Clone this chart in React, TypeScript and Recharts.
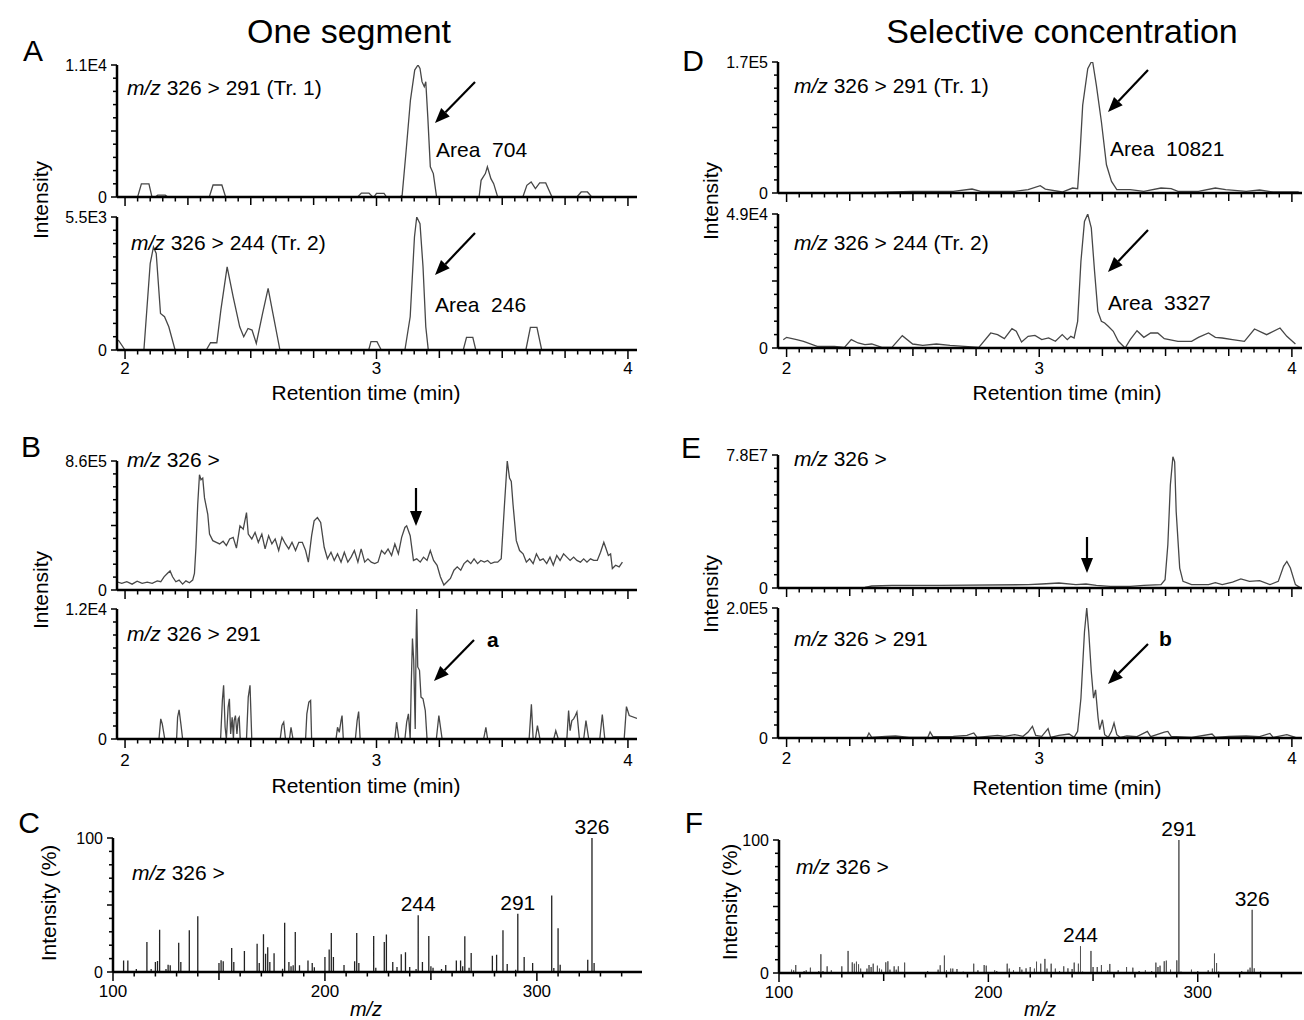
import React from 'react';
import { LineChart, Line, XAxis, YAxis, ReferenceDot } from 'recharts';

const FONT = '"Liberation Sans", Arial, Helvetica, sans-serif';

// axis labels
const rtLabels = [2, 3, 4];
const mzLabels = [100, 200, 300];

// [retention time (min), intensity]
// A: one segment, m/z 326 > 291 (Tr. 1)
const aTop: [number, number][] = [
  [1.968, 0], [2.05, 0], [2.065, 1100], [2.095, 1100], [2.107, 0], [2.12, 0], [2.13, 150], [2.16, 150], [2.17, 0],
  [2.335, 0], [2.35, 1000], [2.385, 1000], [2.4, 0], [2.925, 0], [2.94, 330], [2.97, 330], [2.985, 0],
  [2.99, 0], [3.0, 300], [3.03, 300], [3.04, 0], [3.093, 0], [3.102, 140], [3.118, 3900], [3.135, 8080],
  [3.152, 10580], [3.165, 11000], [3.173, 10720], [3.181, 9610], [3.19, 9190], [3.196, 9610], [3.204, 6680],
  [3.214, 2510], [3.226, 1950], [3.239, 0], [3.408, 0], [3.416, 1390], [3.433, 1950], [3.441, 2510],
  [3.455, 1530], [3.466, 1110], [3.482, 0], [3.582, 0], [3.598, 975], [3.615, 1250], [3.632, 700],
  [3.649, 1170], [3.673, 1170], [3.698, 0], [3.797, 0], [3.814, 420], [3.839, 420], [3.856, 0], [4.036, 0],
];

// A: one segment, m/z 326 > 244 (Tr. 2)
const aBot: [number, number][] = [
  [1.968, 420], [1.975, 385], [2.0, 0], [2.075, 0], [2.1, 3575], [2.113, 4260], [2.124, 3990], [2.141, 1510],
  [2.157, 1375], [2.174, 960], [2.199, 0], [2.323, 0], [2.34, 300], [2.365, 300], [2.381, 1650], [2.406, 3440],
  [2.43, 2200], [2.456, 960], [2.472, 550], [2.489, 890], [2.505, 825], [2.522, 275], [2.547, 1510],
  [2.569, 2545], [2.588, 1510], [2.616, 0], [2.969, 0], [2.978, 345], [3.002, 345], [3.019, 0], [3.113, 0],
  [3.134, 1375], [3.151, 4675], [3.16, 5500], [3.173, 5225], [3.185, 3440], [3.196, 960], [3.206, 0],
  [3.345, 0], [3.358, 520], [3.383, 520], [3.395, 0], [3.594, 0], [3.612, 935], [3.638, 935], [3.657, 0], [4.036, 0],
];

// B: one segment, m/z 326 > (x1000)
const bTop: [number, number][] = [
  [1.967, 55], [1.987, 44], [2.007, 55], [2.028, 39], [2.048, 59], [2.068, 44], [2.088, 53], [2.108, 44], [2.128, 61],
  [2.142, 55], [2.155, 88], [2.168, 110], [2.179, 127], [2.189, 88], [2.202, 55], [2.215, 66], [2.229, 39], [2.242, 61],
  [2.256, 48], [2.269, 66], [2.276, 110], [2.282, 285], [2.289, 570], [2.296, 768], [2.302, 735], [2.309, 746],
  [2.316, 614], [2.329, 505], [2.336, 373], [2.349, 329], [2.363, 318], [2.376, 307], [2.39, 325], [2.403, 296],
  [2.416, 340], [2.43, 351], [2.443, 279], [2.457, 428], [2.47, 406], [2.483, 516], [2.49, 373], [2.504, 340],
  [2.517, 384], [2.53, 318], [2.544, 373], [2.557, 274], [2.571, 362], [2.584, 307], [2.597, 340], [2.611, 263],
  [2.624, 351], [2.638, 307], [2.651, 274], [2.664, 318], [2.678, 263], [2.691, 318], [2.705, 318], [2.718, 263],
  [2.729, 186], [2.742, 362], [2.752, 461], [2.765, 483], [2.778, 450], [2.792, 285], [2.805, 208], [2.819, 252],
  [2.832, 197], [2.845, 241], [2.859, 186], [2.872, 252], [2.886, 186], [2.899, 219], [2.912, 263], [2.926, 186],
  [2.939, 274], [2.953, 186], [2.966, 208], [2.979, 186], [2.993, 176], [3.006, 186], [3.02, 263], [3.033, 241],
  [3.046, 274], [3.06, 230], [3.073, 307], [3.087, 241], [3.1, 351], [3.113, 417], [3.12, 428], [3.134, 362],
  [3.147, 197], [3.16, 208], [3.174, 186], [3.187, 219], [3.201, 197], [3.214, 263], [3.227, 197], [3.241, 165],
  [3.254, 88], [3.268, 33], [3.281, 55], [3.294, 77], [3.308, 132], [3.321, 154], [3.335, 132], [3.348, 176],
  [3.362, 197], [3.375, 176], [3.388, 208], [3.402, 176], [3.415, 197], [3.429, 186], [3.442, 197], [3.455, 176],
  [3.469, 186], [3.482, 186], [3.496, 208], [3.509, 570], [3.52, 860], [3.529, 746], [3.536, 724], [3.543, 570],
  [3.556, 329], [3.569, 263], [3.583, 241], [3.596, 186], [3.609, 208], [3.623, 176], [3.636, 241], [3.65, 197],
  [3.663, 208], [3.677, 176], [3.69, 219], [3.703, 165], [3.717, 230], [3.73, 197], [3.744, 241], [3.757, 219],
  [3.77, 197], [3.784, 219], [3.797, 197], [3.811, 186], [3.824, 208], [3.837, 186], [3.851, 208], [3.864, 197],
  [3.878, 197], [3.891, 252], [3.904, 318], [3.911, 285], [3.922, 230], [3.931, 241], [3.938, 143], [3.951, 165],
  [3.965, 154], [3.978, 186],
];

// B: one segment, m/z 326 > 291
const bBot: [number, number][] = [
  [1.967, 0], [2.135, 0], [2.142, 1860], [2.148, 1390], [2.158, 0], [2.205, 0], [2.209, 2010], [2.215, 2690],
  [2.222, 1390], [2.229, 0], [2.38, 0], [2.387, 3560], [2.392, 4950], [2.398, 1080], [2.403, 0], [2.41, 2940],
  [2.415, 3710], [2.42, 464], [2.426, 2010], [2.431, 0], [2.434, 1700], [2.439, 2165], [2.445, 464], [2.45, 1860],
  [2.454, 2010], [2.458, 0], [2.483, 0], [2.49, 3870], [2.497, 4950], [2.504, 0], [2.617, 0], [2.624, 1240],
  [2.631, 1550], [2.638, 0], [2.654, 0], [2.66, 1080], [2.668, 0], [2.718, 0], [2.723, 2320], [2.731, 3400],
  [2.738, 3560], [2.742, 0], [2.839, 0], [2.845, 1080], [2.852, 620], [2.859, 1700], [2.863, 2165], [2.868, 0],
  [2.916, 0], [2.923, 1700], [2.929, 2540], [2.935, 0], [3.073, 0], [3.08, 1550], [3.089, 0], [3.113, 0],
  [3.12, 1550], [3.127, 2320], [3.134, 0], [3.138, 4800], [3.143, 9280], [3.148, 7270], [3.154, 930],
  [3.158, 10050], [3.16, 12000], [3.164, 6650], [3.171, 6340], [3.177, 3870], [3.185, 3710], [3.194, 2630],
  [3.201, 0], [3.238, 0], [3.248, 2165], [3.261, 0], [3.426, 0], [3.435, 1080], [3.442, 0], [3.607, 0],
  [3.616, 3200], [3.623, 0], [3.632, 0], [3.64, 1240], [3.65, 0], [3.705, 0], [3.713, 770], [3.723, 0],
  [3.757, 0], [3.764, 2630], [3.77, 770], [3.777, 1700], [3.784, 1860], [3.791, 2165], [3.797, 2480], [3.807, 0],
  [3.824, 0], [3.833, 1700], [3.844, 0], [3.888, 0], [3.898, 2260], [3.908, 0], [3.985, 0], [3.994, 2990],
  [4.005, 2165], [4.036, 1900],
];

// D: selective concentration, m/z 326 > 291 (Tr. 1)
const dTop: [number, number][] = [
  [1.966, 0], [2.337, 860], [2.499, 2150], [2.66, 2150], [2.734, 5160], [2.768, 2150], [2.903, 2150], [2.956, 4300],
  [3.004, 9470], [3.024, 5160], [3.091, 1290], [3.132, 6460], [3.152, 5600], [3.161, 49500], [3.172, 114000],
  [3.192, 161400], [3.206, 170000], [3.212, 169100], [3.226, 139900], [3.246, 92500], [3.266, 36600],
  [3.286, 15100], [3.307, 4300], [3.36, 4300], [3.414, 2150], [3.482, 6460], [3.522, 5600], [3.549, 2150],
  [3.63, 2150], [3.697, 6460], [3.738, 4300], [3.819, 2150], [3.872, 3870], [3.926, 1290], [4.027, 1290],
];

// D: selective concentration, m/z 326 > 244 (Tr. 2)
const dBot: [number, number][] = [
  [1.987, 3050], [2.0, 3900], [2.04, 3050], [2.067, 2440], [2.121, 610], [2.189, 610], [2.229, 240], [2.256, 3050],
  [2.283, 1830], [2.31, 1220], [2.337, 1460], [2.377, 240], [2.417, 240], [2.458, 4510], [2.499, 1460],
  [2.539, 975], [2.593, 1460], [2.647, 975], [2.761, 240], [2.808, 5490], [2.835, 4880], [2.862, 3410],
  [2.892, 7070], [2.909, 6100], [2.93, 2190], [2.956, 4270], [2.983, 4630], [3.01, 3050], [3.037, 3660],
  [3.064, 2440], [3.091, 4880], [3.111, 3050], [3.125, 4270], [3.138, 3660], [3.152, 9750], [3.165, 31700],
  [3.179, 46300], [3.192, 49000], [3.206, 43900], [3.219, 28000], [3.232, 13400], [3.246, 9750], [3.259, 9140],
  [3.273, 7920], [3.293, 6100], [3.313, 2440], [3.34, 0], [3.36, 3050], [3.387, 6340], [3.414, 3900],
  [3.441, 5490], [3.469, 5490], [3.495, 3410], [3.549, 2440], [3.603, 2440], [3.63, 3900], [3.67, 5490],
  [3.697, 3900], [3.724, 3660], [3.765, 3050], [3.812, 2440], [3.852, 6950], [3.9, 4880], [3.953, 7310],
  [3.98, 4270], [4.014, 1460],
];

// E: selective concentration, m/z 326 > (x1E6)
const eTop: [number, number][] = [
  [1.966, 0], [2.31, 0.39], [2.337, 1.17], [2.418, 1.56], [2.606, 1.56], [2.957, 1.95], [3.01, 2.34], [3.078, 2.93],
  [3.145, 1.95], [3.185, 2.34], [3.226, 1.56], [3.28, 0.98], [3.36, 0.98], [3.414, 1.56], [3.482, 1.95],
  [3.498, 4.9], [3.509, 25.4], [3.519, 60.5], [3.529, 77], [3.536, 74], [3.542, 44.9], [3.556, 11.7],
  [3.569, 3.9], [3.603, 1.95], [3.67, 1.95], [3.697, 3.1], [3.724, 1.95], [3.765, 3.5], [3.798, 5.3],
  [3.832, 3.9], [3.872, 4.3], [3.913, 1.95], [3.946, 3.9], [3.967, 12.7], [3.98, 15.6], [3.994, 11.7],
  [4.014, 1.95], [4.031, 0.39],
];

// E: selective concentration, m/z 326 > 291 (x1000)
const eBot: [number, number][] = [
  [1.966, 0], [2.317, 0], [2.326, 7.7], [2.337, 1.0], [2.391, 2.6], [2.431, 3.1], [2.485, 1.0], [2.559, 1.0],
  [2.568, 9.2], [2.579, 2.0], [2.66, 2.6], [2.714, 4.1], [2.741, 7.7], [2.754, 1.0], [2.835, 4.1], [2.862, 2.6],
  [2.903, 5.1], [2.936, 2.6], [2.956, 9.2], [2.973, 17.9], [2.986, 4.1], [3.01, 2.6], [3.035, 14.3], [3.045, 1.0],
  [3.078, 4.1], [3.118, 6.1], [3.138, 1.0], [3.152, 10.2], [3.165, 61.2], [3.179, 163], [3.188, 200],
  [3.196, 163], [3.206, 102], [3.215, 61.2], [3.223, 74], [3.233, 30.6], [3.239, 12.8], [3.25, 28.1],
  [3.259, 5.1], [3.273, 1.0], [3.286, 10.2], [3.296, 23], [3.307, 5.1], [3.32, 1.0], [3.347, 3.1], [3.387, 2.0],
  [3.428, 10.2], [3.441, 2.0], [3.495, 9.2], [3.509, 10.2], [3.522, 2.6], [3.603, 1.0], [3.684, 6.1],
  [3.697, 1.0], [3.751, 2.6], [3.819, 3.1], [3.872, 2.0], [3.913, 7.1], [3.926, 1.0], [3.98, 5.1], [4.014, 1.0],
];

// [m/z, relative intensity %]
const cPeaks: [number, number][] = [
  [105, 8.5], [107, 8.5], [111, 2.2], [116, 22.4], [118, 2.2], [120, 7.5], [121, 8.2], [122, 31.6], [125, 2.2],
  [126, 5.5], [127, 5], [131, 21.9], [132, 7.5], [136, 31.1], [140, 41.6], [150, 6.7], [151, 8.7], [152, 8],
  [156, 17.9], [157, 7.5], [162, 15.7], [168, 21.1], [169, 6.7], [171, 28.1], [172, 13.7], [173, 18.4], [174, 7.5],
  [176, 13.9], [180, 2.5], [181, 36.8], [183, 7.5], [184, 4.2], [185, 5], [186, 29.9], [188, 5], [192, 8.5],
  [194, 6.7], [195, 3.5], [200, 11.2], [202, 16.7], [203, 29.1], [204, 11.2], [209, 5.2], [214, 8], [215, 29.1],
  [216, 6.7], [223, 26.9], [224, 3.2], [228, 22.4], [229, 27.9], [232, 7.5], [234, 3.7], [236, 13.2], [238, 14.7],
  [240, 3.7], [243, 2.2], [244, 42.3], [246, 7.5], [249, 26.9], [250, 4.2], [251, 3.2], [255, 2.2], [257, 5.2],
  [262, 8.5], [264, 8.5], [265, 4.2], [266, 26.6], [268, 3.2], [269, 14.2], [279, 12.2], [281, 12.9], [284, 31.1],
  [286, 6], [290, 1.7], [291, 43.5], [294, 11.2], [298, 6.7], [307, 57], [308, 3], [310, 32.6], [311, 5.5],
  [324, 9.2], [326, 100], [327, 6.7],
];

const fPeaks: [number, number][] = [
  [106, 2.5], [107, 2], [108, 6], [112, 1.5], [113, 2], [115, 4], [119, 1.5], [120, 14.1], [121, 1.5], [123, 5],
  [125, 2], [130, 5], [133, 16.6], [135, 8], [136, 7], [137, 8.5], [138, 6.5], [139, 3.3], [142, 3.3], [143, 6],
  [144, 4.5], [145, 7], [147, 5.5], [148, 3.3], [149, 2.5], [151, 8], [152, 8.8], [153, 2.5], [155, 5], [156, 2.5],
  [157, 5], [160, 7.8], [166, 0.5], [171, 1.5], [176, 2.5], [177, 5.8], [179, 13.1], [180, 2], [182, 3.3],
  [183, 3.3], [185, 3], [188, 1], [193, 7], [195, 2], [198, 6], [199, 5.5], [203, 2], [204, 1.5], [209, 7],
  [210, 3.3], [212, 2], [215, 4.5], [216, 2.5], [218, 3.5], [220, 4.5], [222, 3.3], [223, 8.5], [225, 7],
  [227, 10.6], [228, 3.3], [230, 7], [232, 3.3], [234, 1.5], [236, 5], [238, 3.5], [240, 3], [241, 7.8], [243, 7],
  [244, 20.1], [245, 1], [249, 16.6], [250, 4.5], [252, 4.5], [254, 6], [257, 2], [258, 6.8], [262, 2], [266, 4.5],
  [269, 4], [272, 1.5], [275, 2], [278, 1.5], [280, 7.8], [281, 4.5], [282, 5.5], [284, 8.8], [285, 9.3],
  [287, 2.5], [290, 9.5], [291, 100], [292, 1], [297, 2.5], [300, 1.5], [305, 2], [307, 3.3], [308, 14.6],
  [309, 7.5], [310, 1], [321, 1.5], [324, 2.5], [325, 4], [326, 47.5], [327, 3.5], [330, 1], [341, 0.5], [344, 0.5],
];

const labeledMz = [244, 291, 326];

function TimeTick(props: any) {
  const { x, y, payload, showLabels, gap } = props;
  const v = payload.value;
  const q = Math.round(v * 20);
  const isInt = q % 20 === 0;
  const len = isInt ? 9 : q % 5 === 0 ? 8 : 4.5;
  return (
    <g>
      <line x1={x} x2={x} y1={y} y2={y + len} stroke="#000" strokeWidth={1.5} />
      {showLabels && isInt && rtLabels.includes(Math.round(v)) && (
        <text x={x} y={y + gap} textAnchor="middle" dominantBaseline="central" fontSize={17} fontFamily={FONT} fill="#000">
          {Math.round(v)}
        </text>
      )}
    </g>
  );
}

function MzTick(props: any) {
  const { x, y, payload, gap } = props;
  const v = Math.round(payload.value);
  const len = v % 100 === 0 ? 9 : v % 50 === 0 ? 8 : 4.5;
  return (
    <g>
      <line x1={x} x2={x} y1={y} y2={y + len} stroke="#000" strokeWidth={1.5} />
      {mzLabels.includes(v) && (
        <text x={x} y={y + gap} textAnchor="middle" dominantBaseline="central" fontSize={17} fontFamily={FONT} fill="#000">
          {v}
        </text>
      )}
    </g>
  );
}

function IntTick(props: any) {
  const { x, y, payload, max, topLabel } = props;
  const k = Math.round((payload.value / max) * 10);
  const len = k % 5 === 0 ? 6 : 4;
  return (
    <g>
      <line x1={x - len} x2={x} y1={y} y2={y} stroke="#000" strokeWidth={1.5} />
      {(k === 0 || k === 10) && (
        <text x={x - 10} y={y} textAnchor="end" dominantBaseline="central" fontSize={16} fontFamily={FONT} fill="#000">
          {k === 0 ? '0' : topLabel}
        </text>
      )}
    </g>
  );
}

function Chrom({ points, yMax, topLabel, left, top, width, height, xDomain, labels = false, gap = 18, stroke = '#474747' }: any) {
  const data = points.map(([t, v]: [number, number]) => ({ t, v }));
  const YW = 70, MT = 14, MR = 4, XH = labels ? 30 : 12;
  const xTicks: number[] = [];
  for (let k = 40; k <= 80; k++) xTicks.push(k / 20);
  const yTicks: number[] = [];
  for (let k = 0; k <= 10; k++) yTicks.push((yMax * k) / 10);
  return (
    <div style={{ position: 'absolute', left: left - YW, top: top - MT }}>
      <LineChart width={YW + width + MR} height={MT + height + XH} data={data} margin={{ top: MT, right: MR, bottom: 0, left: 0 }}>
        <XAxis
          dataKey="t" type="number" domain={xDomain} allowDataOverflow ticks={xTicks} interval={0}
          tickSize={0} tickMargin={0} tickLine={false} height={XH}
          axisLine={{ stroke: '#000', strokeWidth: 2.5 }}
          tick={(p: any) => <TimeTick {...p} showLabels={labels} gap={gap} />}
        />
        <YAxis
          type="number" domain={[0, yMax]} allowDataOverflow ticks={yTicks} interval={0}
          tickSize={0} tickMargin={0} tickLine={false} width={YW}
          axisLine={{ stroke: '#000', strokeWidth: 2.5 }}
          tick={(p: any) => <IntTick {...p} max={yMax} topLabel={topLabel} />}
        />
        <Line dataKey="v" type="linear" dot={false} activeDot={false} stroke={stroke} strokeWidth={1.3} isAnimationActive={false} />
      </LineChart>
    </div>
  );
}

function Spectrum({ peaks, left, top, width, height, xDomain, stroke, strokeWidth }: any) {
  const data: { m: number; v: number }[] = [];
  peaks.forEach(([m, v]: [number, number]) => {
    data.push({ m, v: 0 }, { m, v }, { m, v: 0 });
  });
  const YW = 70, MT = 34, MR = 2, XH = 30;
  const xTicks: number[] = [];
  for (let m = 100; m <= 340; m += 10) xTicks.push(m);
  const yTicks: number[] = [];
  for (let k = 0; k <= 10; k++) yTicks.push(k * 10);
  const marks = peaks.filter(([m]: [number, number]) => labeledMz.includes(m));
  return (
    <div style={{ position: 'absolute', left: left - YW, top: top - MT }}>
      <LineChart width={YW + width + MR} height={MT + height + XH} data={data} margin={{ top: MT, right: MR, bottom: 0, left: 0 }}>
        <XAxis
          dataKey="m" type="number" domain={xDomain} allowDataOverflow ticks={xTicks} interval={0}
          tickSize={0} tickMargin={0} tickLine={false} height={XH}
          axisLine={{ stroke: '#000', strokeWidth: 2.5 }}
          tick={(p: any) => <MzTick {...p} gap={19} />}
        />
        <YAxis
          type="number" domain={[0, 100]} ticks={yTicks} interval={0}
          tickSize={0} tickMargin={0} tickLine={false} width={YW}
          axisLine={{ stroke: '#000', strokeWidth: 2.5 }}
          tick={(p: any) => <IntTick {...p} max={100} topLabel="100" />}
        />
        <Line dataKey="v" type="linear" dot={false} activeDot={false} stroke={stroke} strokeWidth={strokeWidth} isAnimationActive={false} />
        {marks.map(([m, v]: [number, number]) => (
          <ReferenceDot
            key={m} x={m} y={v} r={0} fill="none" stroke="none" ifOverflow="visible"
            label={{ value: String(m), position: 'top', offset: 4, fontSize: 21, fill: '#000', fontFamily: FONT }}
          />
        ))}
      </LineChart>
    </div>
  );
}

function Note({ x, y, children, size = 21, anchor = 'start', weight = 'normal', rotate = false }: any) {
  return (
    <text
      x={x} y={y} fontSize={size} textAnchor={anchor} dominantBaseline="central" fontWeight={weight}
      fontFamily={FONT} fill="#000" style={{ whiteSpace: 'pre' }}
      transform={rotate ? `rotate(-90 ${x} ${y})` : undefined}
    >
      {children}
    </text>
  );
}

function MzNote({ x, y, rest, size = 21 }: any) {
  return (
    <Note x={x} y={y} size={size}>
      <tspan fontStyle="italic">m/z</tspan>
      {rest}
    </Note>
  );
}

function Arrow({ x1, y1, x2, y2 }: any) {
  const a = Math.atan2(y2 - y1, x2 - x1);
  const L = 15, W = 6;
  const bx = x2 - L * Math.cos(a), by = y2 - L * Math.sin(a);
  const px = -Math.sin(a) * W, py = Math.cos(a) * W;
  return (
    <g>
      <line x1={x1} y1={y1} x2={bx} y2={by} stroke="#000" strokeWidth={2.2} />
      <polygon points={`${x2},${y2} ${bx + px},${by + py} ${bx - px},${by - py}`} fill="#000" />
    </g>
  );
}

const LEFT_DOMAIN: [number, number] = [1.968, 4.036];
const RIGHT_DOMAIN: [number, number] = [1.966, 4.04];

export default function App() {
  return (
    <div style={{ position: 'absolute', left: 0, top: 0, width: 1304, height: 1020, background: '#fff', overflow: 'hidden' }}>
      {/* left column: one segment */}
      <Chrom points={aTop} yMax={11000} topLabel="1.1E4" left={117} top={65} width={520} height={132} xDomain={LEFT_DOMAIN} />
      <Chrom points={aBot} yMax={5500} topLabel="5.5E3" left={117} top={217} width={520} height={133} xDomain={LEFT_DOMAIN} labels gap={18} />
      <Chrom points={bTop} yMax={860} topLabel="8.6E5" left={117} top={461} width={520} height={129} xDomain={LEFT_DOMAIN} />
      <Chrom points={bBot} yMax={12000} topLabel="1.2E4" left={117} top={609} width={520} height={130} xDomain={LEFT_DOMAIN} labels gap={21} />
      <Spectrum peaks={cPeaks} left={113} top={838} width={529} height={134} xDomain={[100, 349.6]} stroke="#222" strokeWidth={1.3} />

      {/* right column: selective concentration */}
      <Chrom points={dTop} yMax={170000} topLabel="1.7E5" left={778} top={62} width={524} height={131} xDomain={RIGHT_DOMAIN} />
      <Chrom points={dBot} yMax={49000} topLabel="4.9E4" left={778} top={214} width={524} height={134} xDomain={RIGHT_DOMAIN} labels gap={20} />
      <Chrom points={eTop} yMax={78} topLabel="7.8E7" left={778} top={455} width={524} height={133} xDomain={RIGHT_DOMAIN} />
      <Chrom points={eBot} yMax={200} topLabel="2.0E5" left={778} top={608} width={524} height={130} xDomain={RIGHT_DOMAIN} labels gap={20} />
      <Spectrum peaks={fPeaks} left={779} top={840} width={523} height={133} xDomain={[100, 349.8]} stroke="#555" strokeWidth={1} />

      <svg width={1304} height={1020} style={{ position: 'absolute', left: 0, top: 0, pointerEvents: 'none' }}>
        <Note x={349} y={31} size={34} anchor="middle">One segment</Note>
        <Note x={1062} y={31} size={34} anchor="middle">Selective concentration</Note>

        <Note x={33} y={50} size={30} anchor="middle">A</Note>
        <Note x={31} y={446} size={30} anchor="middle">B</Note>
        <Note x={29} y={822} size={30} anchor="middle">C</Note>
        <Note x={693} y={60} size={30} anchor="middle">D</Note>
        <Note x={691} y={447} size={30} anchor="middle">E</Note>
        <Note x={694} y={822} size={30} anchor="middle">F</Note>

        <Note x={40} y={200} size={21} anchor="middle" rotate>Intensity</Note>
        <Note x={40} y={590} size={21} anchor="middle" rotate>Intensity</Note>
        <Note x={48} y={903} size={21} anchor="middle" rotate>Intensity (%)</Note>
        <Note x={710} y={201} size={21} anchor="middle" rotate>Intensity</Note>
        <Note x={710} y={594} size={21} anchor="middle" rotate>Intensity</Note>
        <Note x={729} y={902} size={21} anchor="middle" rotate>Intensity (%)</Note>

        <Note x={366} y={392} anchor="middle">Retention time (min)</Note>
        <Note x={366} y={785} anchor="middle">Retention time (min)</Note>
        <Note x={1067} y={392} anchor="middle">Retention time (min)</Note>
        <Note x={1067} y={787} anchor="middle">Retention time (min)</Note>
        <Note x={366} y={1009} size={20} anchor="middle"><tspan fontStyle="italic">m/z</tspan></Note>
        <Note x={1040} y={1009} size={20} anchor="middle"><tspan fontStyle="italic">m/z</tspan></Note>

        <MzNote x={127} y={87} rest=" 326 > 291 (Tr. 1)" />
        <MzNote x={131} y={242} rest=" 326 > 244 (Tr. 2)" />
        <Note x={436} y={149}>Area  704</Note>
        <Note x={435} y={304}>Area  246</Note>
        <Arrow x1={475} y1={82} x2={435} y2={123} />
        <Arrow x1={475} y1={233} x2={435} y2={275} />

        <MzNote x={794} y={85} rest=" 326 > 291 (Tr. 1)" />
        <MzNote x={794} y={242} rest=" 326 > 244 (Tr. 2)" />
        <Note x={1110} y={148}>Area  10821</Note>
        <Note x={1108} y={302}>Area  3327</Note>
        <Arrow x1={1148} y1={70} x2={1108} y2={112} />
        <Arrow x1={1148} y1={230} x2={1108} y2={272} />

        <MzNote x={127} y={459} rest=" 326 >" />
        <MzNote x={127} y={633} rest=" 326 > 291" />
        <Arrow x1={416} y1={488} x2={416} y2={526} />
        <Arrow x1={474} y1={640} x2={434} y2={681} />
        <Note x={487} y={639} weight="bold">a</Note>

        <MzNote x={794} y={458} rest=" 326 >" />
        <MzNote x={794} y={638} rest=" 326 > 291" />
        <Arrow x1={1087} y1={537} x2={1087} y2={573} />
        <Arrow x1={1148} y1={644} x2={1108} y2={684} />
        <Note x={1159} y={638} weight="bold">b</Note>

        <MzNote x={132} y={872} rest=" 326 >" />
        <MzNote x={796} y={866} rest=" 326 >" />
      </svg>
    </div>
  );
}
